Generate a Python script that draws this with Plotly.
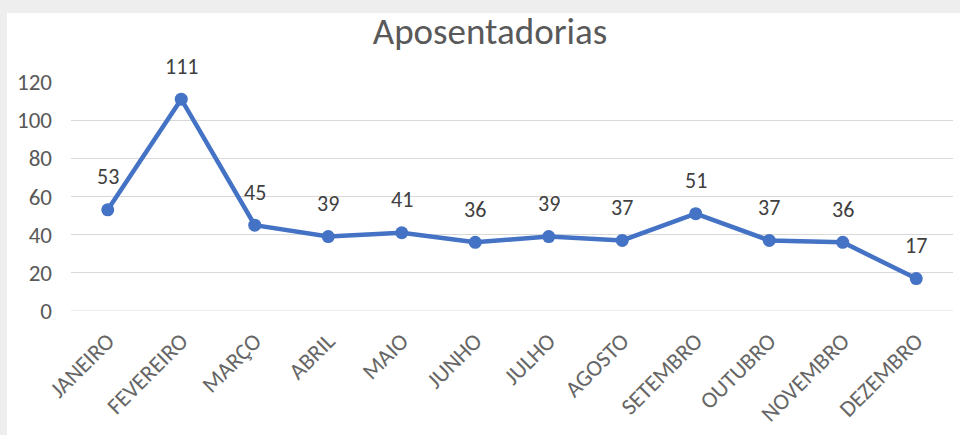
import plotly.graph_objects as go

months = ["JANEIRO", "FEVEREIRO", "MARÇO", "ABRIL", "MAIO", "JUNHO",
          "JULHO", "AGOSTO", "SETEMBRO", "OUTUBRO", "NOVEMBRO", "DEZEMBRO"]
values = [53, 111, 45, 39, 41, 36, 39, 37, 51, 37, 36, 17]
y_ticks = [0, 20, 40, 60, 80, 100, 120]

W, H = 960, 435
ML, MR, MT, MB = 71, 7, 82, 124
pw = W - ML - MR
ph = H - MT - MB

FONT = "Carlito, Liberation Sans Narrow, Open Sans, sans-serif"

fig = go.Figure()
fig.add_trace(go.Scatter(
    x=months, y=values, mode="lines+markers",
    line=dict(color="#4472C4", width=4.5),
    marker=dict(color="#4472C4", size=13),
    cliponaxis=False, showlegend=False,
))

for m, v in zip(months, values):
    fig.add_annotation(x=m, y=v, text=str(v), showarrow=False, yshift=33,
                       font=dict(size=22, color="#404040", family=FONT))

# light gray frame edge around the chart (top and left)
fig.add_shape(type="rect", xref="paper", yref="paper", layer="below",
              x0=(7 - ML) / pw, x1=(W - ML + 5) / pw,
              y0=-(MB + 5) / ph, y1=(ph + MT - 13) / ph,
              fillcolor="white", line=dict(width=0))

fig.update_layout(
    width=W, height=H,
    margin=dict(l=ML, r=MR, t=MT, b=MB),
    paper_bgcolor="#eeeeee", plot_bgcolor="white",
    title=dict(text="Aposentadorias", x=490 / W, xref="container", xanchor="center",
               y=1 - 31 / H, yanchor="middle",
               font=dict(size=37, color="#595959", family=FONT)),
    xaxis=dict(type="category", range=[-0.5, 11.5], tickangle=-45,
               tickfont=dict(size=23, color="#666666", family=FONT),
               showgrid=False, showline=False, ticks="", zeroline=False,
               ticklabelstandoff=11, automargin=False),
    yaxis=dict(range=[0, 120], tickvals=y_ticks, showgrid=True,
               gridcolor="#d9d9d9", gridwidth=1, zeroline=False,
               tickfont=dict(size=23, color="#595959", family=FONT),
               ticks="", ticklabelstandoff=18, automargin=False),
)
fig.add_shape(type="line", xref="paper", yref="y", x0=0, x1=1, y0=0, y1=0,
              line=dict(color="#d9d9d9", width=1), layer="below")

fig.write_html("out.html", config={"displayModeBar": False},
               post_script="document.body.style.margin='0';")
